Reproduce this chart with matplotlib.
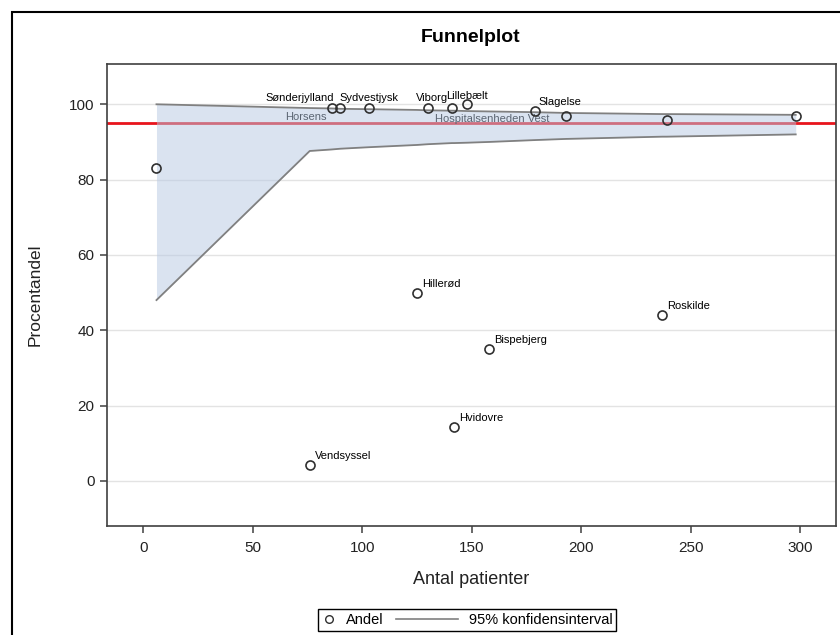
import numpy as np
import matplotlib
matplotlib.use('Agg')
import matplotlib.pyplot as plt
from matplotlib.lines import Line2D
from matplotlib.patches import Rectangle
from matplotlib.legend_handler import HandlerLine2D

plt.rcParams['font.family'] = ['Liberation Sans', 'DejaVu Sans']

# Data: antal patienter og andel (%) pr. afdeling
n_pat = [6, 76, 86, 90, 103, 125, 130, 141, 142, 148, 158, 179, 193, 237, 239, 298]
andel = [83.0, 4.3, 99.1, 99.1, 98.9, 49.9, 99.1, 99.1, 14.2, 100.0, 35.0, 98.1, 97.0, 44.0, 95.8, 97.0]
navne = ['', 'Vendsyssel', 'Horsens', 'Sønderjylland', 'Sydvestjysk', 'Hillerød', 'Viborg', '',
         'Hvidovre', 'Lillebælt', 'Bispebjerg', 'Slagelse', 'Hospitalsenheden Vest', 'Roskilde', '', '']

# 95% konfidensgrænser ved samme antal patienter
ki_nedre = [48.0, 87.6, 88.0, 88.2, 88.6, 89.2, 89.4, 89.7, 89.7, 89.8, 90.0, 90.5, 90.8, 91.4, 91.4, 92.0]
ki_oevre = [100.0, 99.0, 98.9, 98.8, 98.7, 98.5, 98.4, 98.3, 98.3, 98.2, 98.1, 97.9, 97.7, 97.4, 97.4, 97.2]

maal = 95

# placering af etiketter (pixels fra punktet)
etiket_pos = {
    'Horsens': (-5, -9, 'right'),
    'Sønderjylland': (-6, 10, 'right'),
    'Sydvestjysk': (0, 10, 'center'),
    'Viborg': (4, 10, 'center'),
    'Lillebælt': (0, 8, 'center'),
    'Slagelse': (3, 9, 'left'),
    'Hospitalsenheden Vest': (-16, -3, 'right'),
}
bag_baand = ['Horsens', 'Hospitalsenheden Vest']


class LangLinje(HandlerLine2D):
    def create_artists(self, legend, orig_handle, xdescent, ydescent, width, height, fontsize, trans):
        arts = super().create_artists(legend, orig_handle, xdescent, ydescent, width, height, fontsize, trans)
        for a in arts:
            x = np.asarray(a.get_xdata(), dtype=float)
            if len(x) > 1:
                a.set_xdata(np.linspace(x[0] - 3.3 * fontsize, x[-1], len(x)))
        return arts


fig = plt.figure(figsize=(8.4, 6.35), dpi=100)
ax = fig.add_axes([107 / 840, 1 - 526 / 635, 729 / 840, 462 / 635])

# ydre ramme
fig.patches.append(Rectangle((12 / 840, -0.1), 1.2, 1 - 12 / 635 + 0.1, transform=fig.transFigure,
                             fill=False, edgecolor='black', linewidth=1.5))

fig.text(471 / 840, 1 - 38 / 635, 'Funnelplot', ha='center', va='center', fontsize=14, fontweight='bold')

ax.set_xlim(-16.6, 316.4)
ax.set_ylim(-12.0, 110.7)
ax.set_xticks([0, 50, 100, 150, 200, 250, 300])
ax.set_yticks([0, 20, 40, 60, 80, 100])
for yv in ax.get_yticks():
    ax.axhline(yv, color='#e3e3e3', linewidth=1, zorder=0.5)

ax.axhline(maal, color='#e8141c', linewidth=2, zorder=1.5)

ax.fill_between(n_pat, ki_nedre, ki_oevre, color='#b6c9e3', alpha=0.5, linewidth=0, zorder=2)
ax.plot(n_pat, ki_oevre, color='#808080', linewidth=1.3, zorder=2.5)
ax.plot(n_pat, ki_nedre, color='#808080', linewidth=1.3, zorder=2.5)

ax.plot(n_pat, andel, linestyle='none', marker='o', markersize=6.5, markerfacecolor='none',
        markeredgecolor='#303030', markeredgewidth=1.2, zorder=3)

for x, y, navn in zip(n_pat, andel, navne):
    if not navn:
        continue
    dx, dy, ha = etiket_pos.get(navn, (5, 9, 'left'))
    z = 1.6 if navn in bag_baand else 4
    ax.annotate(navn, (x, y), xytext=(dx, dy), textcoords='offset pixels',
                ha=ha, va='center', fontsize=8, color='black', zorder=z)

for s in ax.spines.values():
    s.set_color('#404040')
    s.set_linewidth(1.2)
ax.tick_params(direction='out', length=5, width=1.1, color='#404040', labelsize=11, labelcolor='#222222')
ax.tick_params(axis='x', pad=6)
ax.tick_params(axis='y', pad=4)

ax.set_xlabel('Antal patienter', fontsize=13, color='#222222')
ax.set_ylabel('Procentandel', fontsize=12.5, color='#222222')
ax.xaxis.set_label_coords(0.5, -0.097)
ax.yaxis.set_label_coords(-0.088, 0.5)

h_andel = Line2D([], [], linestyle='none', marker='o', markersize=5.5, markerfacecolor='none',
                 markeredgecolor='#303030', markeredgewidth=1.0)
h_ki = Line2D([], [], color='#808080', linewidth=1.2)
leg = fig.legend([h_andel, h_ki], ['Andel', '95% konfidensinterval'], ncol=2,
                 loc='upper center', bbox_to_anchor=(467 / 840, 1 - 602 / 635),
                 fontsize=10.5, handlelength=1.0, handletextpad=0.7, columnspacing=4.1,
                 borderpad=0.25, frameon=True, fancybox=False, framealpha=1,
                 handler_map={h_ki: LangLinje()})
leg.get_frame().set_edgecolor('black')
leg.get_frame().set_linewidth(1.0)

fig.savefig('out.png', dpi=100)
